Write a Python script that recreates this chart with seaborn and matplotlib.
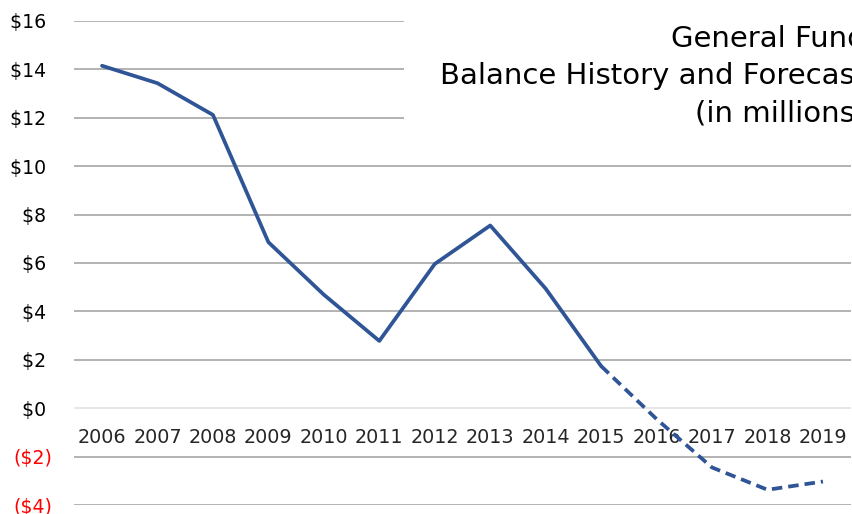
import matplotlib
matplotlib.use("Agg")
import matplotlib.pyplot as plt
from matplotlib.patches import Rectangle
import seaborn as sns
import pandas as pd

# General fund balance, $ millions (actuals through 2015, forecast afterwards)
years = [2006, 2007, 2008, 2009, 2010, 2011, 2012, 2013, 2014, 2015,
         2016, 2017, 2018, 2019]
balance = [14.15, 13.43, 12.12, 6.86, 4.69, 2.78, 5.96, 7.55, 4.94, 1.74,
           -0.45, -2.45, -3.37, -3.03]
last_actual_year = 2015

y_ticks = [-4, -2, 0, 2, 4, 6, 8, 10, 12, 14, 16]
y_tick_labels = ["($4)", "($2)", "$0 ", "$2 ", "$4 ", "$6 ", "$8 ", "$10 ",
                 "$12 ", "$14 ", "$16 "]
title_text = "General Fund\nBalance History and Forecast\n(in millions)"

df = pd.DataFrame({"year": years, "balance": balance})
actual = df[df["year"] <= last_actual_year]
forecast = df[df["year"] >= last_actual_year]

sns.set_theme(style="white")
plt.rcParams["font.family"] = ["DejaVu Sans"]

W, H = 853, 514
fig = plt.figure(figsize=(W / 100, H / 100), dpi=100)
ax = fig.add_axes([74.3 / W, 1 - 505 / H, (850.7 - 74.3) / W, (505 - 21) / H])

line_color = "#2F5597"
sns.lineplot(data=actual, x="year", y="balance", ax=ax, color=line_color,
             linewidth=2.7, zorder=3)
sns.lineplot(data=forecast, x="year", y="balance", ax=ax, color=line_color,
             linewidth=2.7, dashes=False, zorder=3).lines[-1].set_dashes([2.8, 1.6])

ax.set_xlim(years[0] - 0.5, years[-1] + 0.5)
ax.set_ylim(-4, 16)

# horizontal gridlines
for t in y_ticks:
    c = "#e3e3e3" if t == 0 else "#a6a6a6"
    ax.axhline(t, color=c, linewidth=1.2, zorder=1)

ax.set_yticks(y_ticks)
ax.set_yticklabels(y_tick_labels)
for lbl, t in zip(ax.get_yticklabels(), y_ticks):
    lbl.set_color("#ff0000" if t < 0 else "#000000")
ax.tick_params(axis="y", length=0, pad=16, labelsize=13.6)

# category labels sit just beneath the zero line
ax.spines["bottom"].set_position(("data", 0))
ax.set_xticks(years)
ax.set_xticklabels([str(y) for y in years])
ax.tick_params(axis="x", length=0, pad=14.5, labelsize=13.8)

for s in ax.spines.values():
    s.set_visible(False)
ax.set_xlabel("")
ax.set_ylabel("")

# title block on a white panel over the upper gridlines
fig.patches.append(Rectangle((404 / W, 1 - 142 / H), 1, 1, transform=fig.transFigure,
                             facecolor="white", edgecolor="none", zorder=2))
fig.text(866 / W, 1 - 25 / H, title_text, ha="right", va="top",
         multialignment="right", fontsize=21, linespacing=1.42, color="#000000",
         zorder=5)

fig.savefig("out.png", dpi=100)
